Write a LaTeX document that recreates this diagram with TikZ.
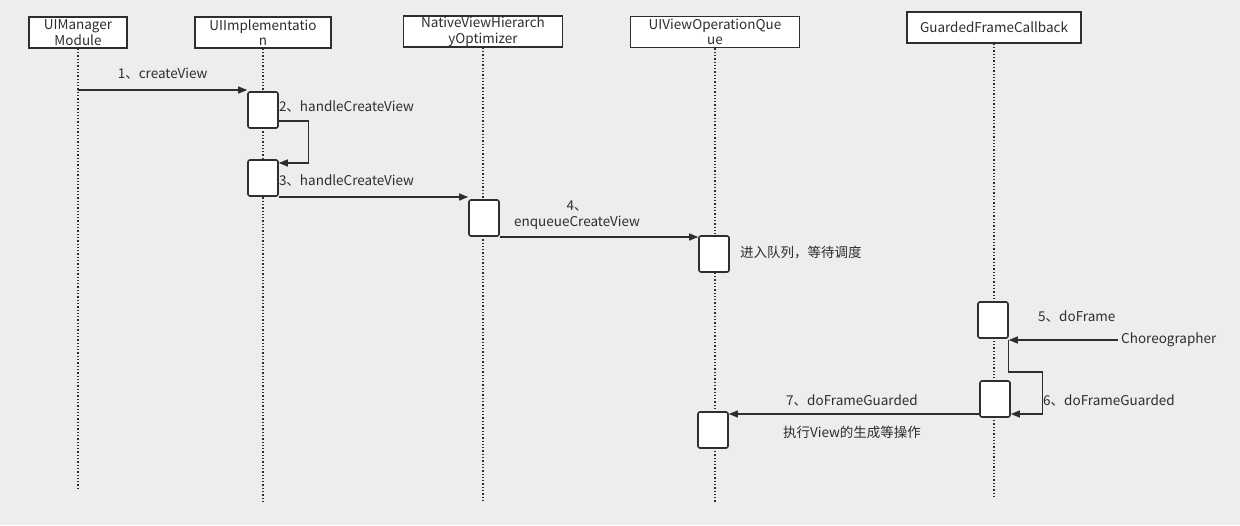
\documentclass[tikz,border=0pt]{standalone}
\usepackage{fontspec}
\newfontfamily\cjk{Noto Sans CJK SC}
\usetikzlibrary{arrows.meta}
\definecolor{bg}{HTML}{EDEDED}
\definecolor{ink}{HTML}{2E2E2E}
\tikzset{
  txt/.style={font=\cjk\fontsize{13.5}{15.5}\selectfont,text=ink,inner sep=0pt},
  head/.style={txt,draw=ink,line width=1.6pt,fill=white,align=center,minimum height=31pt},
  act/.style={draw=ink,line width=1.6pt,fill=white,rounded corners=2pt,minimum width=30pt,minimum height=36pt},
  life/.style={ink,dotted,line width=1.3pt},
  msg/.style={ink,line width=1.3pt,-{Triangle[length=9pt,width=7pt]}}
}
\begin{document}
\begin{tikzpicture}[x=1pt,y=-1pt]
  \fill[bg] (0,0) rectangle (1240,525);
  \useasboundingbox (0,0) rectangle (1240,525);
  % lifeline heads
  \node[head,minimum width=98pt] (um) at (78,32.5) {UIManager\\Module};
  \node[head,minimum width=136pt] (ui) at (263,32.5) {UIImplementatio\\n};
  \node[head,minimum width=159pt] (nv) at (483,31.5) {NativeViewHierarch\\yOptimizer};
  \node[head,minimum width=169pt] (uq) at (715,32) {UIViewOperationQue\\ue};
  \node[head,minimum width=174pt] (gf) at (994,27.5) {GuardedFrameCallback};
  \draw[life] (um) -- (78,488);
  \draw[life] (ui) -- (263,503);
  \draw[life] (nv) -- (483,503);
  \draw[life] (uq) -- (715,503);
  \draw[life] (gf) -- (994,498);
  % activations
  \node[act] (a1) at (263,110) {};
  \node[act] (a2) at (263,178) {};
  \node[act] (a3) at (484,218) {};
  \node[act] (a4) at (714,254) {};
  \node[act] (a5) at (993,320) {};
  \node[act] (a6) at (995,399) {};
  \node[act] (a7) at (713,430) {};
  \node[txt,anchor=west,inner xsep=3pt] (chor) at (1118,340) {Choreographer};
  % messages
  \draw[msg] (um |- 0,90) -- (a1.west |- 0,90) node[txt,midway,above=10pt] {1、createView};
  \draw[msg] (a1.east |- 0,121) -- ++(30,0) |- (a2.east |- 0,163);
  \node[txt,anchor=west] (l2) at (a1.east |- 0,107) {2、handleCreateView};
  \draw[msg] (a2.east |- 0,197) -- (a3.west |- 0,197);
  \node[txt,anchor=west] (l3) at (a2.east |- 0,181) {3、handleCreateView};
  \draw[msg] (a3.east |- 0,237) -- (a4.west |- 0,237);
  \node[txt,align=center] (l4) at (577,215) {4、\\enqueueCreateView};
  \node[txt,anchor=west] (q) at (740,253) {进入队列，等待调度};
  \draw[msg] (chor) -- (a5.east |- chor);
  \node[txt,anchor=west] (l5) at (1038,317) {5、doFrame};
  \draw[msg] (a5.east |- chor) |- ++(34,32) |- (a6.east |- 0,414);
  \node[txt,anchor=west] (l6) at (1043,400) {6、doFrameGuarded};
  \draw[msg] (a6.west |- 0,414) -- (a7.east |- 0,414);
  \node[txt] (l7) at (852,400) {7、doFrameGuarded};
  \node[txt] (ex) at (852,432) {执行View的生成等操作};
\end{tikzpicture}
\end{document}
